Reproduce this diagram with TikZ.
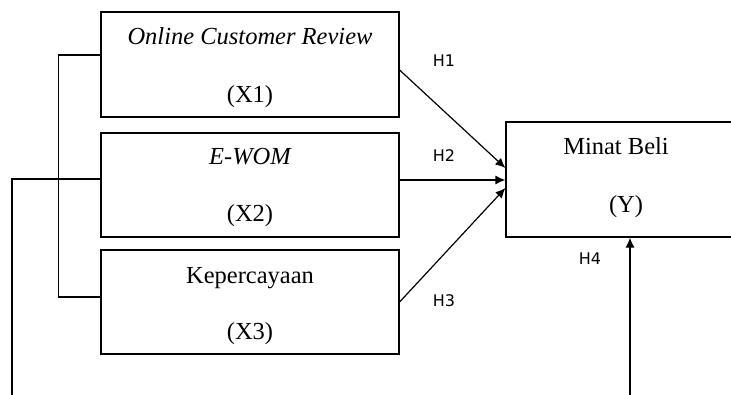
\documentclass[tikz,border=0pt]{standalone}
\usepackage{fontspec}
\setmainfont{Liberation Serif}
\newfontfamily\hfont{DejaVu Sans}
\usetikzlibrary{arrows.meta}

\tikzset{
  varbox/.style={draw, line width=1.2pt, minimum width=298pt, minimum height=104pt, inner sep=0pt},
  vartext/.style={anchor=base, inner sep=0pt, font=\fontsize{24.5pt}{29pt}\selectfont},
  hyp/.style={font=\hfont\fontsize{16pt}{19pt}\selectfont, inner sep=0pt},
  link/.style={line width=1.2pt},
  arr/.style={line width=1.2pt, -{Latex[length=10pt,width=9pt]}}
}

\begin{document}
\begin{tikzpicture}[x=1pt,y=-1pt]
        \useasboundingbox (0,0) rectangle (731,394);
        \clip (0,0) rectangle (731,394);
        % variables
        \node[varbox, minimum height=105pt] (x1) at (250,64.5) {};
        \node[varbox] (x2) at (250,185) {};
        \node[varbox] (x3) at (250,302) {};
        \node[varbox, minimum width=240pt, minimum height=115pt] (y) at (626,179.5) {};
        \node[vartext] (x1t) at ([yshift=-33pt]x1.north) {\itshape Online Customer Review};
        \node[vartext] (x1n) at ([yshift=15pt]x1.south) {(X1)};
        \node[vartext] (x2t) at ([yshift=-32.5pt]x2.north) {\itshape E-WOM};
        \node[vartext] (x2n) at ([yshift=16pt]x2.south) {(X2)};
        \node[vartext] (x3t) at ([yshift=-34pt]x3.north) {Kepercayaan};
        \node[vartext] (x3n) at ([yshift=15pt]x3.south) {(X3)};
        \node[vartext] (yt) at ([xshift=-10pt,yshift=-33pt]y.north) {Minat Beli};
        \node[vartext] (yn) at ([yshift=25pt]y.south) {(Y)};
        \coordinate (bl) at (12,400);
        \coordinate (bt) at (630,400);
        % joint lines
        \draw[link] ([yshift=9.5pt]x1.west) -- ++(-42,0) |- ([yshift=5pt]x3.west);
        \draw[link] (bl) |- ([yshift=6pt]x2.west);
        % hypotheses
        \draw[arr] ([yshift=-5.5pt]x1.east) -- ([yshift=11.5pt]y.west);
        \draw[arr] ([yshift=5pt]x2.east) -- ([yshift=-0.5pt]y.west);
        \draw[arr] (x3.east) -- ([yshift=-8.5pt]y.west);
        \draw[arr] (bt) -- (bt |- y.south);
        \node[hyp] (h1) at (444,61) {H1};
        \node[hyp] (h2) at (444,156) {H2};
        \node[hyp] (h3) at (444,301) {H3};
        \node[hyp] (h4) at (590,259) {H4};
\end{tikzpicture}
\end{document}
